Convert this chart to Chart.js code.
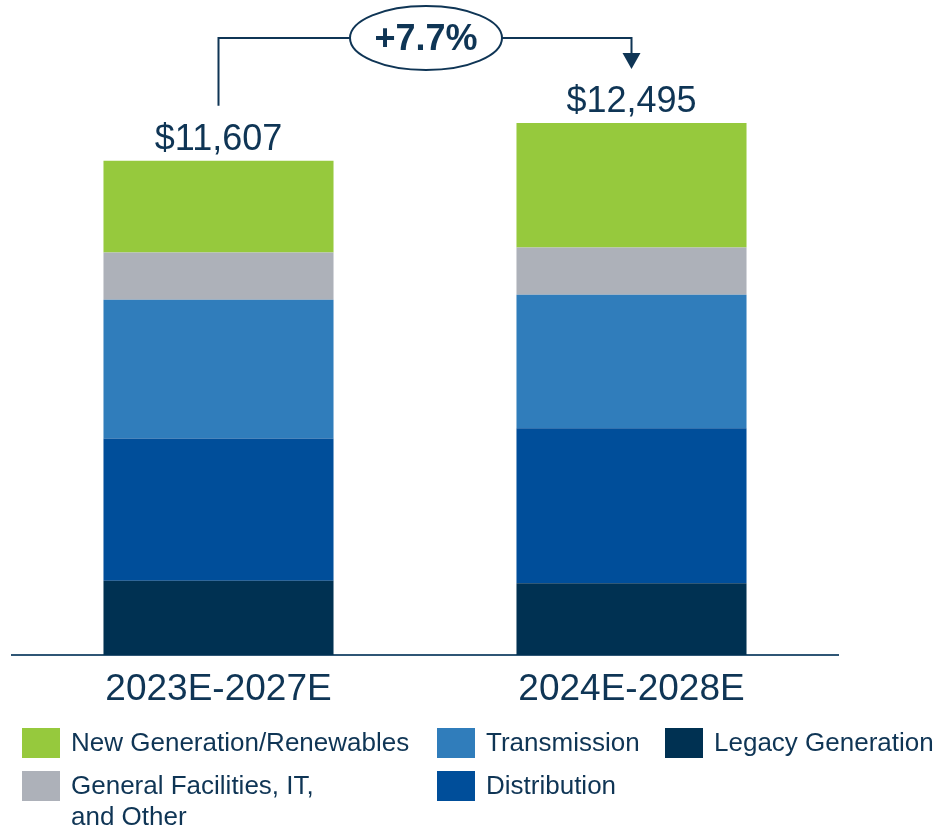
<!DOCTYPE html>
<html>
<head>
<meta charset="utf-8">
<script src="https://cdn.jsdelivr.net/npm/chart.js@4"></script>
<style>
  html, body { margin: 0; padding: 0; background: #fff; }
  #wrap { width: 941px; height: 831px; position: relative; }
</style>
</head>
<body>
<div id="wrap"><canvas id="capexChart"></canvas></div>
<script>
const periods        = ["2023E-2027E", "2024E-2028E"];
const legacyGen      = [1746, 1687];
const distribution   = [3337, 3640];
const transmission   = [3259, 3134];
const generalOther   = [1112, 1114];
const newGeneration  = [2153, 2920];

const NAVY = "#0f3555";
const FONT = "'Liberation Sans', Arial, sans-serif";

const seriesColors = {
    legacy: "#003152",
    dist: "#004e9a",
    trans: "#307dbb",
    general: "#adb1b9",
    newGen: "#96c93d"
};

const totals = periods.map((_, i) =>
    legacyGen[i] + distribution[i] + transmission[i] + generalOther[i] + newGeneration[i]);

// totals above bars + growth bracket
const totalsPlugin = {
    id: "totals",
    afterDatasetsDraw(chart) {
        const ctx = chart.ctx;
        const topMeta = chart.getDatasetMeta(chart.data.datasets.length - 1);
        ctx.save();
        ctx.fillStyle = NAVY;
        ctx.font = "36px " + FONT;
        ctx.textAlign = "center";
        ctx.textBaseline = "alphabetic";
        topMeta.data.forEach((bar, i) => {
            ctx.fillText("$" + totals[i].toLocaleString("en-US"), bar.x, bar.y - 11);
        });

        const x1 = topMeta.data[0].x, x2 = topMeta.data[1].x;
        const yTop = 38;
        const ex = (x1 + x2) / 2 + 1, rx = 76, ry = 32;
        ctx.strokeStyle = NAVY;
        ctx.lineWidth = 2;
        ctx.beginPath();
        ctx.moveTo(x1, topMeta.data[0].y - 55);
        ctx.lineTo(x1, yTop);
        ctx.lineTo(ex - rx, yTop);
        ctx.moveTo(ex + rx, yTop);
        ctx.lineTo(x2, yTop);
        ctx.lineTo(x2, topMeta.data[1].y - 60);
        ctx.stroke();
        // arrow head
        const tipY = topMeta.data[1].y - 54;
        ctx.fillStyle = NAVY;
        ctx.beginPath();
        ctx.moveTo(x2 - 9, tipY - 16);
        ctx.lineTo(x2 + 9, tipY - 16);
        ctx.lineTo(x2, tipY);
        ctx.closePath();
        ctx.fill();
        // ellipse with growth
        ctx.beginPath();
        ctx.ellipse(ex, yTop, rx, ry, 0, 0, Math.PI * 2);
        ctx.fillStyle = "#fff";
        ctx.fill();
        ctx.stroke();
        const growth = (totals[1] / totals[0] - 1) * 100;
        ctx.fillStyle = NAVY;
        ctx.font = "bold 36px " + FONT;
        ctx.textBaseline = "middle";
        ctx.fillText("+" + growth.toFixed(1) + "%", ex, yTop + 2);
        ctx.restore();
    }
};

// legend drawn in three columns
const legendPlugin = {
    id: "customLegend",
    afterDraw(chart) {
        const ctx = chart.ctx;
        const items = [
            { text: ["New Generation/Renewables"], color: seriesColors.newGen, x: 22, y: 728 },
            { text: ["Transmission"], color: seriesColors.trans, x: 437, y: 728 },
            { text: ["Legacy Generation"], color: seriesColors.legacy, x: 665, y: 728 },
            { text: ["General Facilities, IT,", "and Other"], color: seriesColors.general, x: 22, y: 771 },
            { text: ["Distribution"], color: seriesColors.dist, x: 437, y: 771 }
        ];
        ctx.save();
        ctx.font = "26px " + FONT;
        ctx.textAlign = "left";
        ctx.textBaseline = "middle";
        items.forEach(it => {
            ctx.fillStyle = it.color;
            ctx.fillRect(it.x, it.y, 38, 30);
            ctx.fillStyle = NAVY;
            it.text.forEach((t, k) => ctx.fillText(t, it.x + 49, it.y + 16 + k * 31));
        });
        ctx.restore();
    }
};

const ctx = document.getElementById("capexChart").getContext("2d");
new Chart(ctx, {
    type: "bar",
    data: {
        labels: periods,
        datasets: [
            { label: "Legacy Generation", data: legacyGen, backgroundColor: seriesColors.legacy },
            { label: "Distribution", data: distribution, backgroundColor: seriesColors.dist },
            { label: "Transmission", data: transmission, backgroundColor: seriesColors.trans },
            { label: "General Facilities, IT, and Other", data: generalOther, backgroundColor: seriesColors.general },
            { label: "New Generation/Renewables", data: newGeneration, backgroundColor: seriesColors.newGen }
        ]
    },
    options: {
        responsive: true,
        maintainAspectRatio: false,
        animation: false,
        layout: { padding: { top: 59, left: 12, right: 103, bottom: 120 } },
        datasets: { bar: { barPercentage: 1, categoryPercentage: 0.557, borderWidth: 0 } },
        plugins: { legend: { display: false }, tooltip: { enabled: false } },
        scales: {
            x: {
                stacked: true,
                grid: { display: false, drawTicks: false },
                border: { display: true, color: "#2f5675", width: 2 },
                ticks: { color: NAVY, font: { size: 37, family: FONT }, padding: 13 },
                afterFit: s => { s.height = 56; }
            },
            y: {
                stacked: true,
                display: false,
                min: 0,
                max: 14000
            }
        }
    },
    plugins: [totalsPlugin, legendPlugin]
});
</script>
</body>
</html>
